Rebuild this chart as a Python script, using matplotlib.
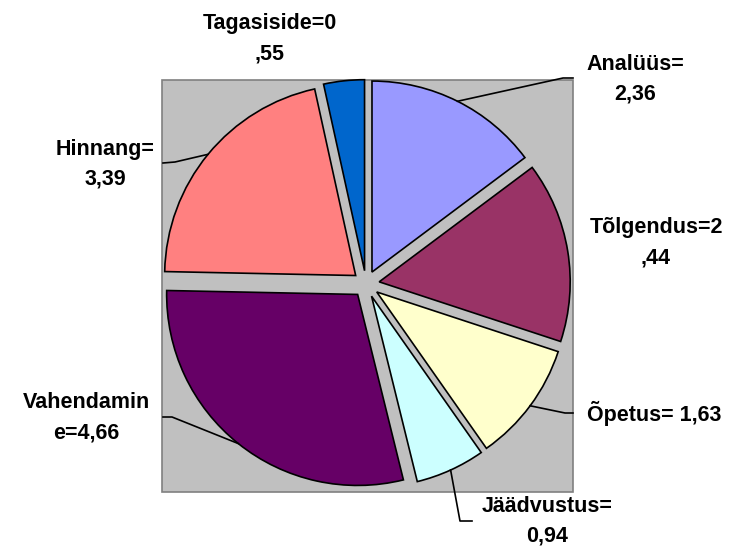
import numpy as np
import matplotlib.pyplot as plt
from matplotlib.patches import Rectangle

# slices, clockwise from 12 o'clock
names = ["Analüüs", "Tõlgendus", "Õpetus", "Jäädvustus", "Vahendamine", "Hinnang", "Tagasiside"]
values = [2.36, 2.44, 1.63, 0.94, 4.66, 3.39, 0.55]
label_text = ["Analüüs=\n2,36", "Tõlgendus=2\n,44", "Õpetus= 1,63", "Jäädvustus=\n0,94",
              "Vahendamin\ne=4,66", "Hinnang=\n3,39", "Tagasiside=0\n,55"]
colors = ["#9999FF", "#993366", "#FFFFCC", "#CCFFFF", "#660066", "#FF8080", "#0066CC"]

W, H = 733, 550
# layout in pixels (y down): label centre of first line, leader elbow and end
label_pos = [(635, 64), (656, 228), (654, 413), (547, 506), (86, 403), (105, 149), (270, 24)]
leaders = [((563, 78), (573, 78)), None, ((565, 413), (573, 413)), ((460, 521), (472, 521)),
           ((172, 417), (163, 417)), ((175, 162), (163, 163)), None]
line_step = 30
cx, cy, rad = 366, 284, 191
expl = 0.07 * rad

fig = plt.figure(figsize=(W / 100, H / 100), dpi=100)
ax = fig.add_axes([0, 0, 1, 1])

ax.add_patch(Rectangle((162, H - 492), 411, 412, facecolor="#C0C0C0",
                       edgecolor="#808080", lw=1.2, zorder=0))

wedges, _ = ax.pie(values, colors=colors, startangle=90, counterclock=False,
                   center=(cx, H - cy), radius=rad, explode=[expl] * len(values),
                   wedgeprops=dict(edgecolor="black", linewidth=1.2))
ax.set_xlim(0, W)
ax.set_ylim(0, H)
ax.set_aspect("equal")
ax.axis("off")

font = dict(family=["Liberation Sans", "DejaVu Sans"], fontweight="bold", fontsize=15.5)
for w, txt, (lx, ly), ld in zip(wedges, label_text, label_pos, leaders):
    for i, line in enumerate(txt.split("\n")):
        ax.text(lx, H - (ly + i * line_step), line, ha="center", va="center", **font)
    if ld is not None:
        mid = np.deg2rad((w.theta1 + w.theta2) / 2)
        sx = cx + (expl + rad) * np.cos(mid)
        sy = H - cy + (expl + rad) * np.sin(mid)
        (ex, ey), (fx, fy) = ld
        ax.plot([sx, ex, fx], [sy, H - ey, H - fy], color="black", lw=1.2, zorder=3)

fig.savefig("out.png", dpi=100)
